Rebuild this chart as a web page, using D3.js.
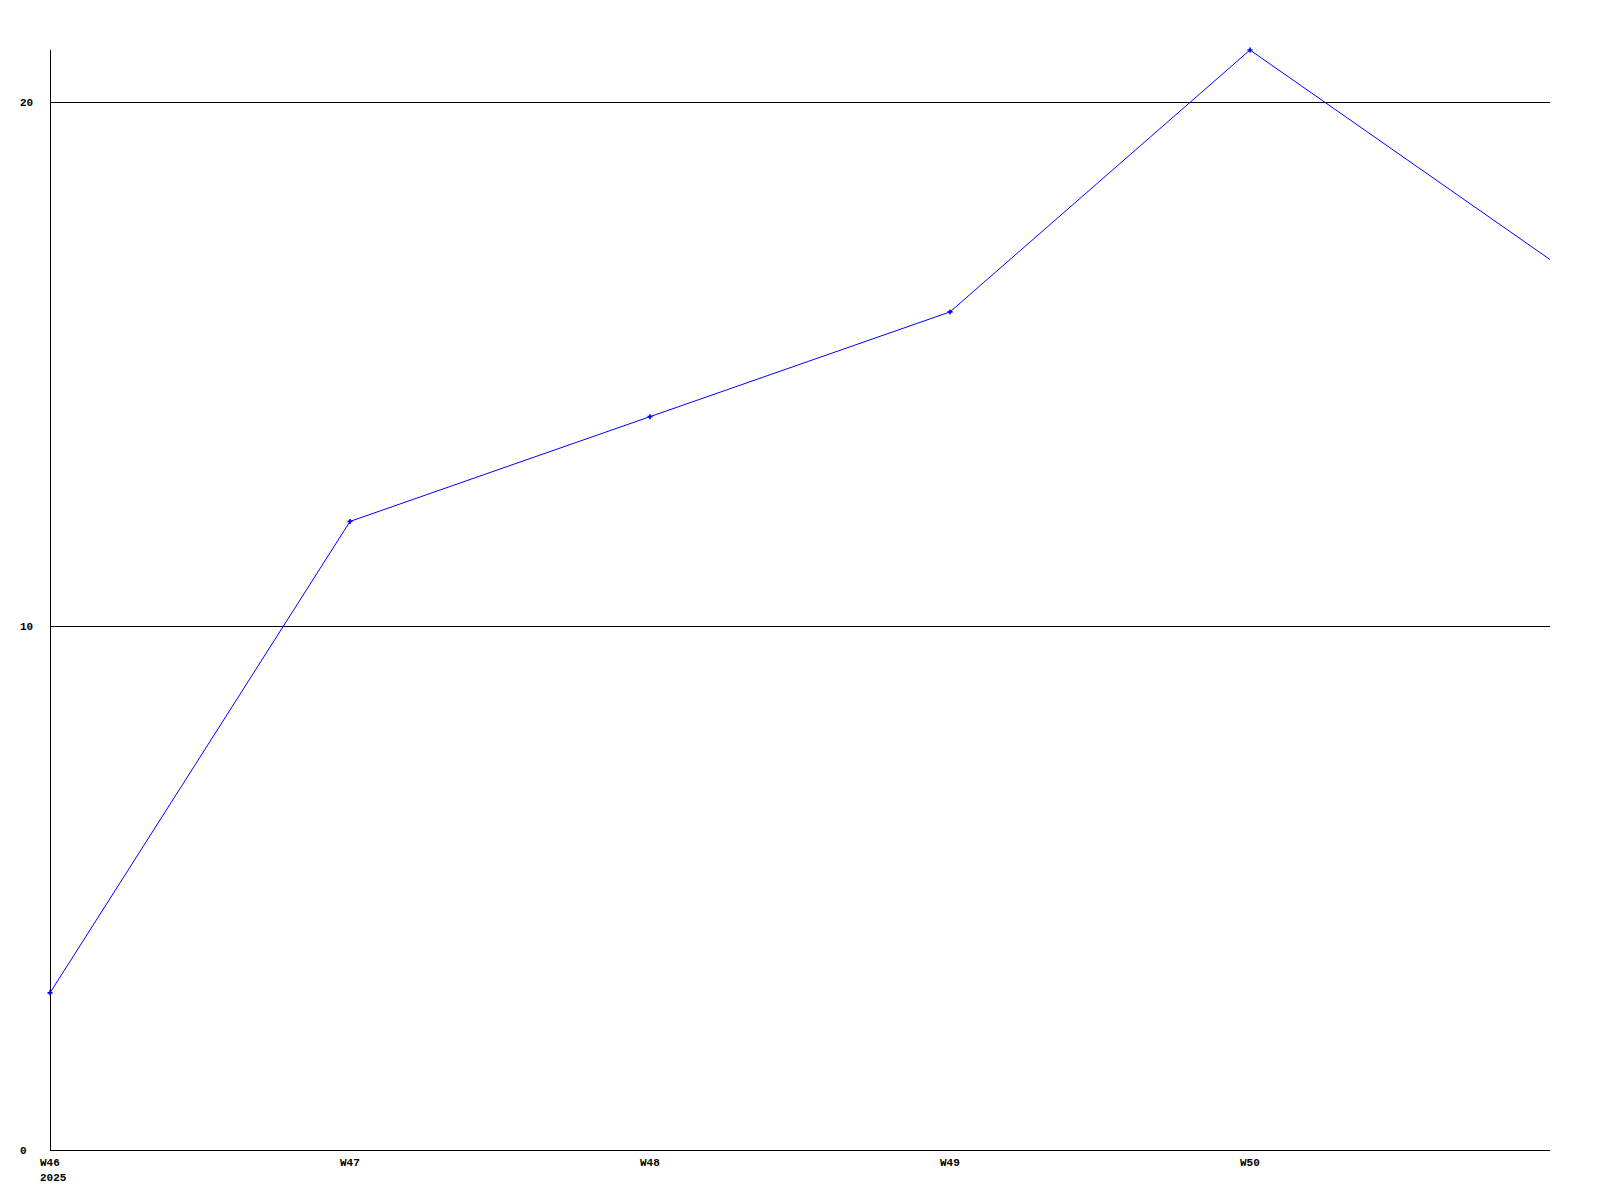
<!DOCTYPE html>
<meta charset="utf-8">
<style>
body { margin: 0; background: #fff; }
.grid { stroke: #000; stroke-width: 1px; shape-rendering: crispEdges; }
.line { fill: none; stroke: #0000ff; stroke-width: 1px; }
.mark { fill: #0000ff; }
text { font-family: "Liberation Mono", "DejaVu Sans Mono", monospace; font-weight: bold; font-size: 11px; fill: #000; }
</style>
<svg width="1600" height="1200"></svg>
<script src="https://d3js.org/d3.v7.min.js"></script>
<script>

var weeks = [46, 47, 48, 49, 50, 51];
var values = [3, 12, 14, 16, 21, 17];
var weekLabels = ["W46", "W47", "W48", "W49", "W50"];
var yearLabel = "2025";
var yTicks = [0, 10, 20];

var svg = d3.select("svg");

var x = d3.scaleLinear().domain([46, 51]).range([50, 1550]);
var y = d3.scaleLinear().domain([0, 21]).range([1150, 50]);

// horizontal grid lines
svg.selectAll("line.grid-h")
    .data(yTicks)
  .enter().append("line")
    .attr("class", "grid")
    .attr("x1", x(46)).attr("x2", x(51))
    .attr("y1", function(d) { return Math.round(y(d)) + 0.5; })
    .attr("y2", function(d) { return Math.round(y(d)) + 0.5; });

// y axis
svg.append("line")
    .attr("class", "grid")
    .attr("x1", x(46) + 0.5).attr("x2", x(46) + 0.5)
    .attr("y1", y(21)).attr("y2", y(0) + 0.5);

svg.selectAll("text.ylab")
    .data(yTicks)
  .enter().append("text")
    .attr("x", 20)
    .attr("y", function(d) { return Math.round(y(d)) + 4; })
    .text(function(d) { return d; });

svg.selectAll("text.xlab")
    .data(weekLabels)
  .enter().append("text")
    .attr("x", function(d, i) { return x(weeks[i]) - 10; })
    .attr("y", 1166)
    .text(function(d) { return d; });

svg.append("text")
    .attr("x", x(46) - 10)
    .attr("y", 1181)
    .text(yearLabel);

var data = weeks.map(function(w, i) { return {w: w, v: values[i]}; });

svg.append("path")
    .datum(data)
    .attr("class", "line")
    .attr("d", d3.line()
      .x(function(d) { return x(d.w); })
      .y(function(d) { return y(d.v); }));

svg.selectAll("path.mark")
    .data(data.slice(0, 5))
  .enter().append("path")
    .attr("class", "mark")
    .attr("transform", function(d) { return "translate(" + x(d.w) + "," + y(d.v) + ")"; })
    .attr("d", d3.symbol().type(d3.symbolCross).size(14));

</script>
